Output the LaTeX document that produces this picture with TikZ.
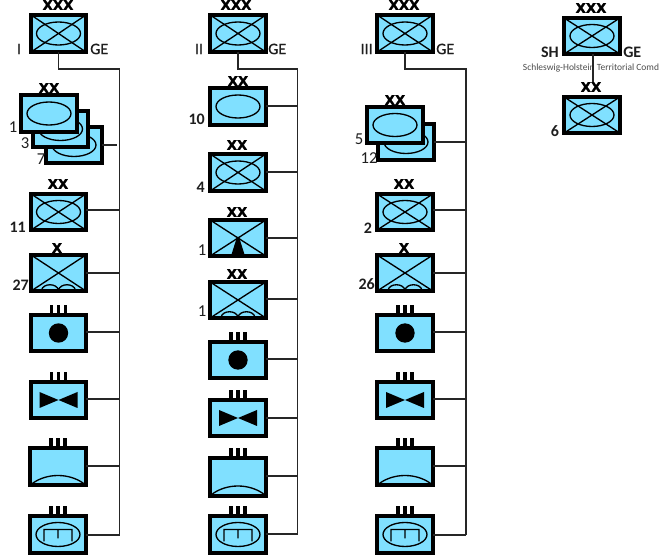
\documentclass[tikz,border=0pt]{standalone}
\usepackage{fontspec}
\setmainfont{Carlito}
\newfontfamily\markfont[FakeBold=1.5]{DejaVu Sans Bold}
\newfontfamily\midfont[FakeBold=0.8]{Carlito}
\definecolor{unitblue}{RGB}{128,224,255}
\definecolor{labelgrey}{RGB}{30,30,30}
\tikzset{
  x=0.75pt,y=-0.75pt,
  unitbox/.style={draw=black,fill=unitblue,line width=2.7pt,rectangle,inner sep=0pt,outer sep=0pt},
  sym/.style={line width=1pt,black},
  conn/.style={line width=1.1pt,draw=black!85},
  lab/.style={inner sep=0pt,font=\fontsize{12pt}{12pt}\selectfont\bfseries,text=labelgrey},
  labr/.style={inner sep=0pt,font=\fontsize{12.5pt}{12pt}\selectfont,text=labelgrey},
  labm/.style={inner sep=0pt,font=\midfont\fontsize{12pt}{12pt}\selectfont,text=labelgrey},
  ech/.style={inner sep=0pt,font=\markfont\fontsize{10pt}{10pt}\selectfont}
}
% \ubox{name}{x1}{y1}{x2}{y2}: outer pixel extents
\newcommand{\ubox}[5]{%
  \pgfmathsetmacro{\ubw}{(#4-#2)*0.75-2.7}%
  \pgfmathsetmacro{\ubh}{(#5-#3)*0.75-2.7}%
  \node[unitbox,minimum width=\ubw pt,minimum height=\ubh pt] (#1) at ({(#2+#4)/2},{(#3+#5)/2}) {};}
\newcommand{\symcross}[1]{\draw[sym] (#1.north west)--(#1.south east) (#1.north east)--(#1.south west);}
\newcommand{\symoval}[1]{\draw[sym] (#1.center) ellipse [x radius=22,y radius=11.5];}
\newcommand{\symhump}[1]{\begin{scope}[shift={(#1.center)}]\draw[sym] (-17,17) .. controls (-15,10) and (-2,10) .. (0,17) .. controls (2,10) and (15,10) .. (17,17);\end{scope}}
\newcommand{\symtick}[1]{\begin{scope}[shift={(#1.north)}]\draw[line width=2.4pt,black] (-7,-1)--(-7,-10) (0,-1)--(0,-10) (7,-1)--(7,-10);\end{scope}}
\newcommand{\symdot}[1]{\fill[black] (#1.center) circle [radius=9.7];}
\newcommand{\symbow}[1]{\begin{scope}[shift={(#1.center)}]\fill[black] (-19,-8)--(0,0)--(-19,8)--cycle (19,-8)--(0,0)--(19,8)--cycle;\end{scope}}
\newcommand{\symarc}[1]{\begin{scope}[shift={(#1.center)}]\draw[sym] (-27,18) .. controls (-12,6) and (12,6) .. (27,18);\end{scope}}
\newcommand{\symtrk}[1]{\begin{scope}[shift={(#1.center)}]\draw[sym] (0,0) ellipse [x radius=22,y radius=12] (-14,7)--(-14,-5)--(14,-5)--(14,7) (0,-5)--(0,4);\end{scope}}
\newcommand{\symtri}[1]{\begin{scope}[shift={(#1.center)}]\fill[black] (-7,18)--(-1,-1)--(1,-1)--(7,18)--cycle;\end{scope}}
\newcommand{\branch}[3]{\draw[conn] (#1.east |- 0,#2) -- (#3 |- 0,#2);}
\begin{document}
\begin{tikzpicture}
\useasboundingbox (0,0) rectangle (669,556);
% column I
\coordinate (t1) at (119.5,69); \coordinate (e1) at (119.5,535);
\ubox{a0}{29}{13}{88}{54} \symcross{a0} \symoval{a0}
\ubox{a7}{44}{125}{104}{165} \symoval{a7}
\ubox{a3}{31}{109}{90}{149} \symoval{a3}
\ubox{a1}{19}{93}{79}{134} \symoval{a1}
\ubox{a11}{29}{192}{88}{232} \symcross{a11} \symoval{a11}
\ubox{a27}{29}{253}{88}{293} \symcross{a27} \symhump{a27}
\ubox{aa}{29}{313}{88}{353} \symtick{aa} \symdot{aa}
\ubox{ab}{29}{380}{88}{420} \symtick{ab} \symbow{ab}
\ubox{ac}{28}{446}{88}{487} \symtick{ac} \symarc{ac}
\ubox{ad}{28}{514}{88}{555} \symtick{ad} \symtrk{ad}
\draw[conn] (a0.south) |- (t1) -- (e1);
\coordinate (s7) at (117,145);
\draw[conn] (a7.east |- s7) -- (s7);
\branch{a11}{210}{t1} \branch{a27}{273}{t1} \branch{aa}{332}{t1} \branch{ab}{399}{t1} \branch{ac}{466}{t1} \branch{ad}{535}{t1}
\node[ech] (xa0) at (58,5) {XXX}; \node[ech] (xa1) at (49,88) {XX}; \node[ech] (xa11) at (58,184) {XX}; \node[ech] (xa27) at (57,248) {X};
\node[labm] (la0) at (19,49) {I}; \node[labm,anchor=west] (ga0) at (90,49) {GE};
\node[labr] (la1) at (13,127) {1}; \node[labr] (la3) at (25,143) {3}; \node[labr] (la7) at (41,159) {7};
\node[lab,anchor=east] (la11) at (26,227) {11}; \node[lab,anchor=east] (la27) at (29,285) {27};
% column II
\coordinate (t2) at (297.5,69); \coordinate (e2) at (297.5,534);
\ubox{b0}{208}{13}{268}{54} \symcross{b0} \symoval{b0}
\ubox{b10}{208}{86}{268}{127} \symoval{b10}
\ubox{b4}{208}{152}{268}{193} \symcross{b4} \symoval{b4}
\ubox{b1}{208}{218}{268}{258} \symcross{b1} \symtri{b1}
\ubox{b2}{208}{280}{268}{320} \symcross{b2} \symhump{b2}
\ubox{ba}{208}{340}{268}{380} \symtick{ba} \symdot{ba}
\ubox{bb}{208}{398}{268}{438} \symtick{bb} \symbow{bb}
\ubox{bc}{208}{456}{268}{498} \symtick{bc} \symarc{bc}
\ubox{bd}{208}{514}{268}{555} \symtick{bd} \symtrk{bd}
\draw[conn] (b0.south) |- (t2) -- (e2);
\branch{b10}{106}{t2} \branch{b4}{172}{t2} \branch{b1}{238}{t2} \branch{b2}{299}{t2} \branch{ba}{359}{t2} \branch{bb}{418}{t2} \branch{bc}{476}{t2} \branch{bd}{534}{t2}
\node[ech] (xb0) at (236,5) {XXX}; \node[ech] (xb10) at (238,81) {XX}; \node[ech] (xb4) at (237,145) {XX}; \node[ech] (xb1) at (237,212) {XX}; \node[ech] (xb2) at (237,274) {XX};
\node[labm] (lb0) at (199,49) {II}; \node[labm,anchor=west] (gb0) at (268,49) {GE};
\node[lab,anchor=east] (lb10) at (205,119) {10}; \node[lab,anchor=east] (lb4) at (205,187) {4};
\node[labr] (lb1) at (202,250) {1}; \node[labr] (lb2) at (202,311) {1};
% column III
\coordinate (t3) at (466,69); \coordinate (e3) at (466,535);
\ubox{c0}{375}{13}{435}{54} \symcross{c0} \symoval{c0}
\ubox{c12}{376}{122}{436}{162} \symoval{c12}
\ubox{c5}{365}{105}{425}{145} \symoval{c5}
\ubox{c2}{375}{192}{435}{232} \symcross{c2} \symoval{c2}
\ubox{c26}{375}{253}{435}{293} \symcross{c26} \symhump{c26}
\ubox{ca}{375}{313}{435}{353} \symtick{ca} \symdot{ca}
\ubox{cb}{375}{380}{435}{420} \symtick{cb} \symbow{cb}
\ubox{cc}{375}{446}{435}{487} \symtick{cc} \symarc{cc}
\ubox{cd}{375}{514}{435}{555} \symtick{cd} \symtrk{cd}
\draw[conn] (c0.south) |- (t3) -- (e3);
\branch{c12}{142}{t3} \branch{c2}{210}{t3} \branch{c26}{273}{t3} \branch{ca}{332}{t3} \branch{cb}{399}{t3} \branch{cc}{466}{t3} \branch{cd}{535}{t3}
\node[ech] (xc0) at (404,5) {XXX}; \node[ech] (xc5) at (395,100) {XX}; \node[ech] (xc2) at (404,184) {XX}; \node[ech] (xc26) at (404,248) {X};
\node[labm,anchor=east] (lc0) at (373,49) {III}; \node[labm,anchor=west] (gc0) at (436,49) {GE};
\node[labr] (lc5) at (359,139) {5}; \node[labr] (lc12) at (369,158) {12};
\node[lab] (lc2) at (368,228) {2}; \node[lab,anchor=east] (lc26) at (375,284) {26};
% column IV
\ubox{d0}{562}{16}{622}{56} \symcross{d0} \symoval{d0}
\ubox{d6}{562}{95}{622}{135} \symcross{d6} \symoval{d6}
\node[inner sep=0pt,font=\fontsize{7.1pt}{7pt}\selectfont,text=black!70] (ld) at (591,68) {Schleswig-Holstein Territorial Comd};
\coordinate (x6) at (593,82);
\draw[conn] (x6 |- d0.south) -- (x6);
\node[ech] (xd0) at (591,8) {XXX}; \node[ech] (xd6) at (591,87) {XX};
\node[lab,anchor=east] (sd0) at (559,52) {SH}; \node[lab,anchor=west] (gd0) at (623,52) {GE};
\node[lab] (ld6) at (555,131) {6};
\end{tikzpicture}
\end{document}
